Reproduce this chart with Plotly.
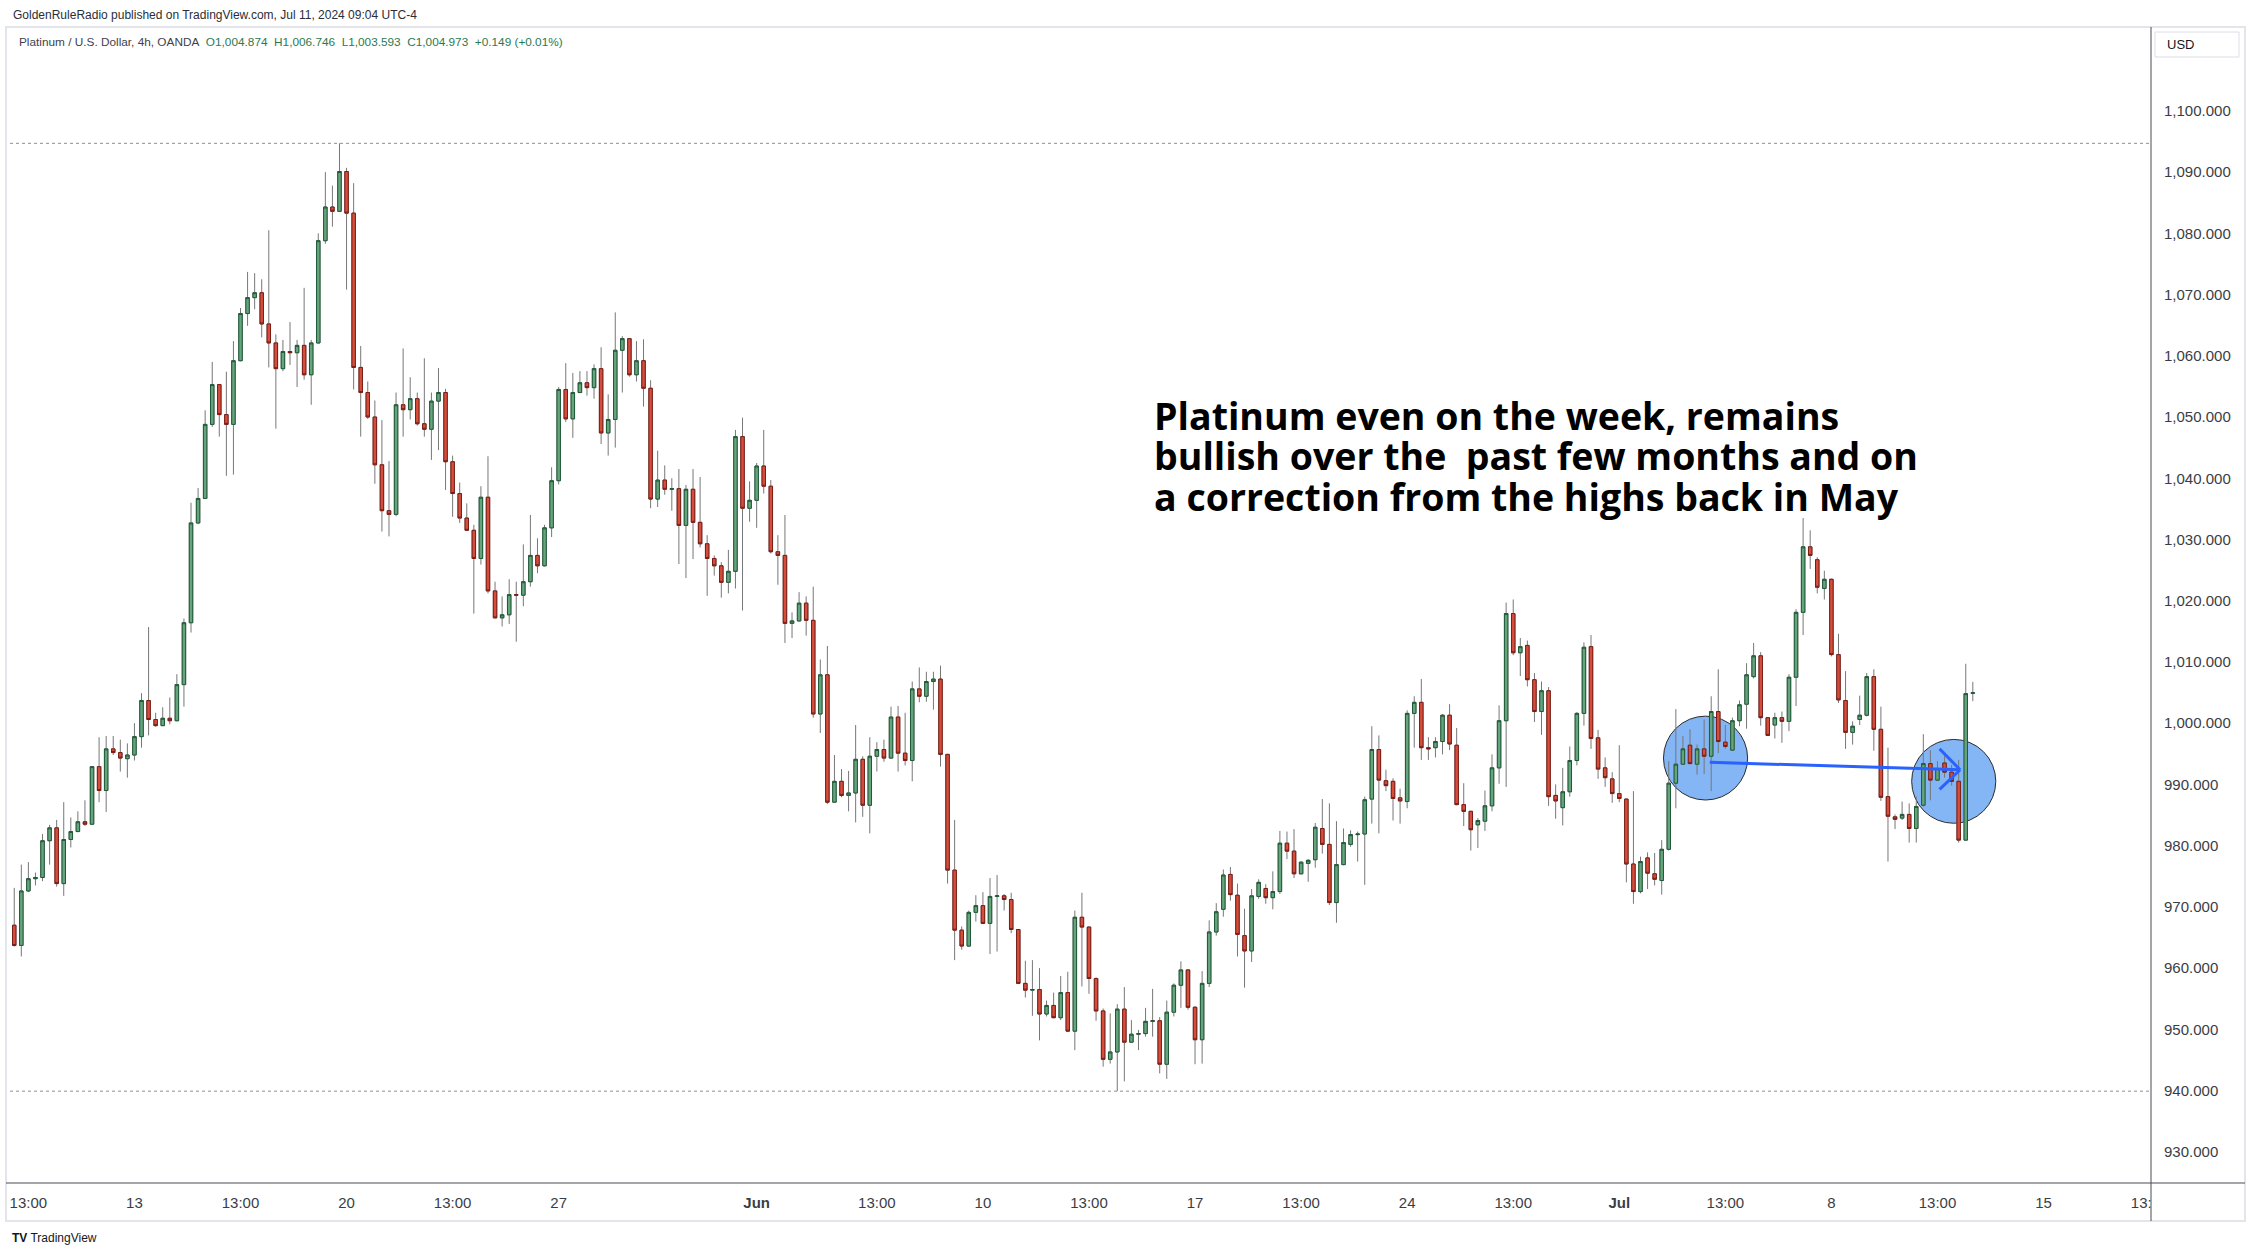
import pandas as pd
import plotly.graph_objects as go

# ---------------- data (Platinum / USD, OANDA, 4h) ----------------
first_bar = "2024-05-08 05:00"

opens = [
    967.0, 963.7, 972.6, 974.6, 974.8, 980.8, 982.9, 973.8, 981.0, 982.3,
    983.9, 983.5, 992.9, 989.0, 995.8, 995.2, 994.2, 994.8, 997.8, 1003.7,
    1000.6, 999.6, 1000.8, 1000.4, 1006.3, 1016.4, 1032.7, 1036.7, 1048.8, 1055.3,
    1050.4, 1048.8, 1059.2, 1066.9, 1069.5, 1070.3, 1065.2, 1062.1, 1057.9, 1060.7,
    1060.5, 1061.7, 1056.9, 1062.1, 1078.8, 1084.3, 1083.6, 1090.1, 1083.3, 1058.1,
    1054.0, 1050.0, 1042.2, 1034.7, 1034.1, 1052.0, 1051.2, 1053.0, 1048.9, 1048.0,
    1052.6, 1054.0, 1042.7, 1037.5, 1033.5, 1031.5, 1026.9, 1036.9, 1021.6, 1017.2,
    1017.7, 1021.0, 1020.9, 1023.1, 1027.4, 1025.7, 1031.9, 1039.6, 1054.5, 1049.7,
    1054.0, 1055.6, 1054.8, 1057.9, 1047.4, 1049.6, 1060.9, 1062.8, 1056.9, 1059.2,
    1054.7, 1036.6, 1039.7, 1038.2, 1038.3, 1032.3, 1038.2, 1032.8, 1029.3, 1026.9,
    1025.7, 1023.0, 1024.8, 1046.8, 1035.1, 1036.4, 1042.0, 1038.7, 1028.0, 1027.4,
    1016.3, 1016.7, 1019.6, 1016.8, 1001.5, 1007.9, 987.1, 990.5, 988.2, 988.6,
    994.1, 986.6, 994.6, 995.7, 994.3, 1001.0, 995.1, 993.9, 1005.6, 1004.4,
    1006.8, 1007.2, 994.9, 976.0, 966.2, 963.6, 969.1, 970.2, 967.3, 971.7,
    971.8, 971.2, 966.3, 957.5, 956.4, 956.5, 952.5, 953.9, 951.9, 956.0,
    949.7, 968.3, 966.7, 958.3, 953.0, 945.1, 946.3, 953.3, 947.9, 949.2,
    949.3, 951.3, 951.4, 944.3, 952.8, 957.2, 959.7, 953.6, 948.3, 957.5,
    965.9, 969.6, 975.3, 971.9, 965.3, 962.8, 971.7, 973.0, 971.5, 972.5,
    980.4, 979.1, 975.4, 977.1, 977.7, 982.8, 980.2, 970.7, 976.9, 980.2,
    981.8, 981.9, 987.6, 995.7, 990.6, 990.5, 987.8, 987.2, 1001.6, 1003.4,
    996.0, 996.0, 997.0, 1001.3, 996.4, 986.7, 985.6, 983.4, 984.0, 986.5,
    992.7, 1000.4, 1017.9, 1011.5, 1012.7, 1007.1, 1001.9, 1005.3, 988.2, 986.2,
    988.8, 993.9, 1001.6, 1012.5, 997.6, 992.7, 990.9, 988.5, 987.6, 977.0,
    972.5, 978.0, 975.4, 974.3, 979.4, 990.2, 993.3, 996.4, 993.3, 995.8,
    994.6, 1001.9, 996.9, 995.6, 1000.4, 1003.1, 1007.6, 1011.0, 1000.9, 999.7,
    1000.9, 1000.3, 1007.5, 1018.1, 1028.8, 1026.7, 1022.0, 1023.5, 1011.2, 1003.7,
    998.5, 1000.6, 1001.3, 1007.6, 999.0, 988.0, 984.7, 984.5, 985.1, 982.8,
    986.6, 993.4, 990.7, 993.5, 992.0, 990.5, 980.9, 1004.874,
]

highs = [
    973.1, 976.9, 977.3, 975.6, 981.9, 983.4, 984.2, 987.1, 984.6, 985.6,
    987.4, 993.0, 997.7, 997.9, 997.9, 997.3, 996.7, 1000.0, 1004.9, 1015.7,
    1001.7, 1002.6, 1004.2, 1008.0, 1017.1, 1036.0, 1038.4, 1051.1, 1059.0, 1055.4,
    1057.4, 1062.4, 1067.8, 1073.7, 1073.5, 1072.5, 1080.5, 1063.5, 1062.6, 1065.5,
    1062.6, 1071.1, 1062.6, 1080.0, 1090.0, 1087.8, 1094.7, 1090.7, 1088.2, 1061.6,
    1055.8, 1052.7, 1049.5, 1042.8, 1054.0, 1061.2, 1056.5, 1054.0, 1059.6, 1054.0,
    1058.0, 1054.6, 1043.7, 1039.3, 1035.9, 1032.4, 1038.7, 1043.6, 1023.1, 1020.7,
    1023.5, 1023.1, 1029.2, 1034.0, 1030.2, 1032.4, 1041.8, 1054.9, 1058.8, 1057.2,
    1057.5, 1057.5, 1058.6, 1061.4, 1053.7, 1067.1, 1063.2, 1062.9, 1062.4, 1062.7,
    1056.0, 1044.5, 1042.1, 1040.0, 1041.5, 1038.9, 1041.5, 1040.2, 1030.7, 1027.4,
    1026.3, 1028.3, 1047.9, 1049.9, 1039.5, 1042.5, 1047.9, 1039.7, 1030.7, 1034.0,
    1018.1, 1021.4, 1020.7, 1022.3, 1010.4, 1012.6, 994.8, 992.5, 992.2, 999.7,
    994.6, 997.7, 996.9, 997.3, 1002.7, 1002.8, 1001.7, 1006.8, 1009.1, 1008.4,
    1008.4, 1009.4, 995.0, 984.2, 966.8, 969.4, 971.9, 972.4, 974.7, 975.2,
    972.1, 972.3, 966.4, 961.2, 961.3, 960.0, 954.7, 956.0, 958.7, 959.4,
    969.4, 972.3, 966.8, 958.5, 953.4, 952.6, 954.1, 956.9, 951.5, 949.9,
    953.5, 956.6, 952.0, 954.7, 957.5, 961.1, 959.8, 953.8, 959.5, 967.8,
    970.6, 976.1, 976.5, 973.8, 969.7, 972.9, 974.5, 973.7, 975.8, 982.4,
    982.3, 982.7, 977.4, 977.8, 983.7, 987.6, 986.9, 984.0, 982.8, 982.5,
    982.3, 988.0, 999.5, 998.0, 992.4, 991.0, 989.3, 1002.1, 1004.4, 1007.2,
    997.7, 997.7, 1001.5, 1003.1, 999.2, 990.2, 985.7, 984.5, 989.0, 994.9,
    1002.9, 1019.7, 1020.2, 1013.9, 1013.5, 1008.2, 1006.8, 1005.9, 990.0, 992.7,
    996.2, 1001.8, 1013.2, 1014.4, 998.9, 994.4, 992.0, 996.4, 987.7, 988.9,
    978.2, 978.9, 978.8, 980.9, 993.8, 1002.3, 997.9, 999.0, 996.5, 1000.6,
    1004.4, 1008.8, 999.7, 1000.9, 1003.7, 1009.8, 1013.1, 1011.6, 1001.0, 1001.7,
    1001.9, 1008.0, 1018.6, 1033.5, 1031.5, 1027.1, 1024.9, 1023.6, 1014.6, 1008.5,
    1000.3, 1004.5, 1008.2, 1008.8, 1002.7, 996.0, 985.1, 987.2, 986.9, 988.0,
    998.2, 995.6, 993.8, 994.6, 993.2, 994.0, 1009.7, 1006.746,
]

lows = [
    963.5, 961.9, 972.4, 973.5, 974.2, 976.9, 973.3, 971.8, 979.7, 982.2,
    983.2, 983.4, 987.1, 985.5, 994.8, 992.1, 991.1, 993.9, 996.0, 998.0,
    999.4, 999.5, 999.8, 1000.3, 1002.7, 1014.8, 1032.5, 1036.6, 1048.4, 1046.8,
    1040.4, 1040.6, 1059.1, 1064.9, 1067.6, 1063.0, 1058.1, 1048.1, 1057.5, 1058.5,
    1054.9, 1056.1, 1052.0, 1062.0, 1078.3, 1081.1, 1083.5, 1070.8, 1054.5, 1046.8,
    1049.7, 1039.1, 1031.3, 1030.5, 1033.8, 1046.8, 1049.6, 1048.6, 1046.8, 1043.0,
    1044.6, 1038.1, 1033.7, 1032.7, 1031.4, 1017.9, 1025.9, 1021.2, 1017.1, 1015.8,
    1016.2, 1013.3, 1019.1, 1022.3, 1024.5, 1025.6, 1030.4, 1039.0, 1049.2, 1046.6,
    1053.9, 1053.5, 1053.0, 1045.6, 1043.7, 1045.0, 1054.0, 1056.6, 1055.8, 1051.7,
    1035.1, 1035.3, 1037.3, 1034.7, 1026.0, 1023.7, 1026.8, 1028.7, 1020.8, 1024.1,
    1020.5, 1021.2, 1022.0, 1018.4, 1032.9, 1031.9, 1037.5, 1027.7, 1022.6, 1013.1,
    1013.9, 1016.6, 1014.3, 1000.9, 998.4, 986.8, 987.0, 987.9, 985.6, 983.8,
    984.7, 982.0, 992.1, 993.7, 994.2, 992.1, 993.1, 990.5, 1003.4, 1003.5,
    1002.2, 992.9, 973.8, 961.3, 963.0, 963.5, 967.6, 967.2, 962.3, 962.7,
    969.4, 965.7, 957.4, 955.2, 952.2, 948.2, 952.1, 951.8, 951.5, 949.6,
    946.6, 957.0, 955.8, 951.4, 943.9, 944.4, 939.9, 941.5, 947.8, 946.6,
    948.8, 948.8, 942.8, 941.9, 952.1, 953.5, 953.2, 944.3, 944.4, 956.9,
    965.3, 968.4, 971.0, 961.9, 956.8, 961.0, 971.3, 970.5, 969.6, 972.1,
    977.8, 974.7, 975.3, 974.1, 976.4, 978.7, 970.3, 967.4, 976.8, 979.8,
    977.4, 973.6, 983.6, 982.0, 988.9, 984.1, 983.6, 986.1, 996.0, 994.0,
    994.0, 994.4, 994.9, 995.6, 986.6, 983.2, 979.2, 979.6, 982.4, 985.6,
    990.1, 989.6, 1011.1, 1007.7, 1006.0, 1000.2, 998.1, 986.5, 984.4, 983.3,
    988.0, 993.1, 999.6, 995.8, 990.9, 989.6, 987.0, 987.1, 974.0, 970.5,
    972.2, 972.9, 973.5, 972.0, 979.2, 986.1, 993.2, 993.3, 991.6, 991.7,
    988.9, 995.1, 995.8, 995.5, 999.5, 999.1, 1007.3, 999.6, 997.9, 997.5,
    996.8, 998.7, 1002.8, 1014.4, 1025.2, 1021.2, 1020.2, 1010.9, 1003.3, 995.8,
    996.5, 999.7, 1001.1, 995.5, 987.3, 977.4, 982.7, 984.2, 980.5, 980.5,
    986.4, 987.4, 990.6, 991.1, 989.8, 980.5, 980.8, 1003.593,
]

closes = [
    963.7, 972.6, 974.6, 974.8, 980.8, 982.9, 973.8, 981.0, 982.3, 983.9,
    983.5, 992.9, 989.0, 995.8, 995.2, 994.3, 994.8, 997.8, 1003.7, 1000.6,
    999.6, 1000.8, 1000.4, 1006.3, 1016.4, 1032.7, 1036.7, 1048.8, 1055.3, 1050.4,
    1048.8, 1059.2, 1066.9, 1069.5, 1070.3, 1065.2, 1062.1, 1057.9, 1060.7, 1060.5,
    1061.7, 1056.9, 1062.1, 1078.8, 1084.3, 1083.6, 1090.1, 1083.3, 1058.1, 1054.0,
    1050.0, 1042.2, 1034.7, 1034.1, 1052.0, 1051.2, 1053.0, 1048.9, 1048.0, 1052.6,
    1054.0, 1042.7, 1037.5, 1033.5, 1031.5, 1026.9, 1036.9, 1021.6, 1017.2, 1017.7,
    1021.0, 1020.9, 1023.1, 1027.4, 1025.7, 1031.9, 1039.6, 1054.5, 1049.7, 1054.0,
    1055.6, 1054.8, 1057.9, 1047.4, 1049.6, 1060.9, 1062.8, 1056.9, 1059.2, 1054.7,
    1036.6, 1039.7, 1038.2, 1038.3, 1032.3, 1038.2, 1032.8, 1029.3, 1026.9, 1025.7,
    1023.0, 1024.8, 1046.8, 1035.1, 1036.4, 1042.0, 1038.7, 1028.0, 1027.4, 1016.3,
    1016.7, 1019.6, 1016.8, 1001.5, 1007.9, 987.1, 990.5, 988.2, 988.6, 994.1,
    986.6, 994.6, 995.7, 994.3, 1001.0, 995.1, 993.9, 1005.6, 1004.4, 1006.8,
    1007.2, 994.9, 976.0, 966.2, 963.6, 969.1, 970.2, 967.3, 971.7, 971.8,
    971.2, 966.3, 957.5, 956.4, 956.5, 952.5, 953.9, 951.9, 956.0, 949.7,
    968.3, 966.7, 958.3, 953.0, 945.1, 946.3, 953.3, 947.9, 949.2, 949.3,
    951.3, 951.4, 944.3, 952.8, 957.2, 959.7, 953.6, 948.3, 957.5, 965.9,
    969.2, 975.2, 972.0, 965.5, 962.8, 971.8, 974.0, 971.5, 972.5, 980.4,
    979.1, 975.4, 977.3, 977.6, 983.0, 980.2, 970.7, 976.9, 980.5, 981.8,
    981.9, 987.5, 995.7, 990.7, 989.8, 987.7, 987.3, 1001.6, 1003.4, 996.0,
    995.8, 997.0, 1001.3, 996.6, 986.7, 985.6, 982.6, 984.1, 986.5, 992.7,
    1000.4, 1017.9, 1011.5, 1012.5, 1007.1, 1001.9, 1005.3, 988.0, 987.3, 988.8,
    993.9, 1001.6, 1012.4, 997.5, 992.5, 991.1, 988.5, 987.7, 977.0, 972.5,
    977.4, 975.5, 974.5, 979.4, 990.2, 993.3, 995.8, 993.4, 995.8, 994.6,
    1001.9, 997.0, 996.2, 1000.4, 1003.0, 1007.9, 1011.0, 1000.9, 998.0, 1000.9,
    1000.3, 1007.5, 1018.1, 1028.8, 1027.4, 1022.2, 1023.5, 1011.2, 1003.8, 998.5,
    999.5, 1001.3, 1007.6, 999.0, 987.9, 984.8, 984.3, 985.1, 982.8, 986.4,
    993.4, 990.7, 992.6, 992.0, 990.5, 980.9, 1004.824, 1004.973,
]

# time-axis labels and the bar times they sit on
tick_text = ["13:00", "13", "13:00", "20", "13:00", "27", "<b>Jun</b>", "13:00", "10", "13:00",
             "17", "13:00", "24", "13:00", "<b>Jul</b>", "13:00", "8", "13:00", "15", "13:00"]
tick_times = ["2024-05-08 13:00", "2024-05-13 01:00", "2024-05-15 13:00", "2024-05-20 01:00",
              "2024-05-22 13:00", "2024-05-27 01:00", "2024-06-02 17:00", "2024-06-05 13:00",
              "2024-06-10 01:00", "2024-06-12 13:00", "2024-06-17 01:00", "2024-06-19 13:00",
              "2024-06-24 01:00", "2024-06-26 13:00", "2024-07-01 01:00", "2024-07-03 13:00",
              "2024-07-08 01:00", "2024-07-10 13:00", "2024-07-15 01:00", "2024-07-17 13:00"]
price_ticks = [930, 940, 950, 960, 970, 980, 990, 1000, 1010, 1020, 1030, 1040, 1050,
               1060, 1070, 1080, 1090, 1100]

header_text = "GoldenRuleRadio published on TradingView.com, Jul 11, 2024 09:04 UTC-4"
symbol_text = "Platinum / U.S. Dollar, 4h, OANDA"
note_lines = ["Platinum even on the week, remains",
              "bullish over the\u00a0 past few months and on",
              "a correction from the highs back in May"]

# user drawings (bar index, price)
ellipse_x = [239.2, 274.3]
ellipse_y = [994.3, 990.5]
ellipse_rx = 5.95
ellipse_ry = 6.85
arrow_from = (239.8, 993.6)
arrow_to = (275.2, 992.4)
arrow_head_x = 272.3
arrow_head_y = [995.8, 989.2]

# ---------------- styling / geometry ----------------
W, H = 2253, 1256
L, R, T, B = 10, 102, 27, 73
PW, PH = W - L - R, H - T - B


def px(x):
    return (x - L) / PW


def py(y):
    return (H - B - y) / PH


UP_FILL, UP_LINE = "#66a47d", "#1f5b38"
DN_FILL, DN_LINE = "#d64e3b", "#7a1d16"
WICK = "#777777"
TXT = "#3b3d45"
FONT = "Liberation Sans"

n = len(opens)
xs = list(range(n))

# bar schedule (4h bars, market closed Fri 17:00 -> Sun 17:00)
sched = []
t = pd.Timestamp(first_bar)
while len(sched) < 330:
    wd, h = t.weekday(), t.hour
    if not ((wd == 4 and h >= 17) or wd == 5 or (wd == 6 and h < 17)):
        sched.append(t)
    t += pd.Timedelta(hours=4)
pos = {ts: i for i, ts in enumerate(sched)}
tickvals = [pos[pd.Timestamp(s)] for s in tick_times]

body_hi = [max(o, c) for o, c in zip(opens, closes)]
body_lo = [min(o, c) for o, c in zip(opens, closes)]

fig = go.Figure()
# wicks
fig.add_trace(go.Candlestick(
    x=xs, open=opens, high=highs, low=lows, close=closes,
    increasing=dict(line=dict(color=WICK, width=1), fillcolor=WICK),
    decreasing=dict(line=dict(color=WICK, width=1), fillcolor=WICK),
    whiskerwidth=0, hoverinfo="skip", showlegend=False))
# bodies
fig.add_trace(go.Candlestick(
    x=xs, open=opens, high=body_hi, low=body_lo, close=closes,
    increasing=dict(line=dict(color=UP_LINE, width=1), fillcolor=UP_FILL),
    decreasing=dict(line=dict(color=DN_LINE, width=1), fillcolor=DN_FILL),
    whiskerwidth=0, hoverinfo="skip", showlegend=False))

hi_max, lo_min = max(highs), min(lows)

shapes = []
# chart frame
shapes.append(dict(type="rect", xref="paper", yref="paper", x0=px(6), x1=px(2245), y0=py(27), y1=py(1221),
                   line=dict(color="#e3e5ea", width=2), fillcolor="rgba(0,0,0,0)", layer="below"))
# high / low dotted price lines
for lvl in (hi_max, lo_min):
    shapes.append(dict(type="line", xref="paper", yref="y", x0=0, x1=1, y0=lvl, y1=lvl,
                       line=dict(color="#8c8f98", width=1, dash="dot"), layer="below"))
# ellipses
for cx, cy in zip(ellipse_x, ellipse_y):
    shapes.append(dict(type="circle", xref="x", yref="y",
                       x0=cx - ellipse_rx, x1=cx + ellipse_rx, y0=cy - ellipse_ry, y1=cy + ellipse_ry,
                       fillcolor="#84b5f4", line=dict(color="#2b2b2b", width=1), layer="below"))
# arrow
shapes.append(dict(type="line", xref="x", yref="y", x0=arrow_from[0], y0=arrow_from[1],
                   x1=arrow_to[0], y1=arrow_to[1], line=dict(color="#2962ff", width=3), layer="above"))
for hy in arrow_head_y:
    shapes.append(dict(type="line", xref="x", yref="y", x0=arrow_head_x, y0=hy,
                       x1=arrow_to[0], y1=arrow_to[1], line=dict(color="#2962ff", width=3), layer="above"))
# mask for the cut-off time label under the price scale
shapes.append(dict(type="rect", xref="paper", yref="paper", x0=px(2152), x1=px(2243), y0=py(1219), y1=py(1185),
                   fillcolor="white", line=dict(width=0), layer="above"))
# axis lines
shapes.append(dict(type="line", xref="paper", yref="paper", x0=px(2151), x1=px(2151), y0=py(27), y1=py(1221),
                   line=dict(color="#4a4c55", width=1), layer="above"))
shapes.append(dict(type="line", xref="paper", yref="paper", x0=px(6), x1=px(2245), y0=py(1183), y1=py(1183),
                   line=dict(color="#4a4c55", width=1), layer="above"))
# USD box
shapes.append(dict(type="rect", xref="paper", yref="paper", x0=px(2155), x1=px(2239), y0=py(57), y1=py(32),
                   fillcolor="white", line=dict(color="#dcdee4", width=1), layer="above"))

chg = closes[-1] - closes[-2]
pct = chg / closes[-2] * 100
sp = "\u00a0\u00a0"
vals = (f"O{opens[-1]:,.3f}{sp}H{highs[-1]:,.3f}{sp}L{lows[-1]:,.3f}{sp}"
        f"C{closes[-1]:,.3f}{sp}{chg:+.3f} ({pct:+.2f}%)")

note_html = "<br>".join(f"<span style='font-size:37.5px'>{s}</span>" for s in note_lines)

annotations = [
    dict(text=header_text, x=px(10.5), y=py(15), xref="paper", yref="paper", xanchor="left", yanchor="middle",
         showarrow=False, font=dict(family=FONT, size=12, color="#2a2e39")),
    dict(text=f"{symbol_text}{sp}<span style='color:#2b7a4f'>{vals}</span>", x=px(17), y=py(42),
         xref="paper", yref="paper", xanchor="left", yanchor="middle",
         showarrow=False, font=dict(family=FONT, size=11.8, color="#3f424b")),
    dict(text="USD", x=px(2165), y=py(44.5), xref="paper", yref="paper", xanchor="left", yanchor="middle",
         showarrow=False, font=dict(family=FONT, size=13, color="#131722")),
    dict(text="<b>TV</b> TradingView", x=px(10), y=py(1238), xref="paper", yref="paper", xanchor="left",
         yanchor="middle", showarrow=False, font=dict(family=FONT, size=12, color="#131722")),
    dict(text=note_html, x=px(1152), y=py(388), xref="paper", yref="paper", xanchor="left", yanchor="top",
         align="left", showarrow=False,
         font=dict(family="Open Sans", size=31, color="#000000", weight="bold")),
]

fig.update_layout(
    width=W, height=H, margin=dict(l=L, r=R, t=T, b=B),
    paper_bgcolor="white", plot_bgcolor="white", boxmode="overlay",
    font=dict(family=FONT, size=15, color=TXT),
    shapes=shapes, annotations=annotations, showlegend=False,
    xaxis=dict(range=[-0.6, 302.2], rangeslider=dict(visible=False), showgrid=False, zeroline=False,
               showline=False, ticks="", tickvals=tickvals, ticktext=tick_text,
               tickfont=dict(family=FONT, size=15, color=TXT), ticklabelstandoff=9, fixedrange=True),
    yaxis=dict(range=[924.9, 1113.7], side="right", showgrid=False, zeroline=False, showline=False,
               ticks="", tickvals=price_ticks, tickformat=",.3f",
               tickfont=dict(family=FONT, size=15, color=TXT), ticklabelstandoff=12, fixedrange=True),
)

fig.write_html("out.html")
